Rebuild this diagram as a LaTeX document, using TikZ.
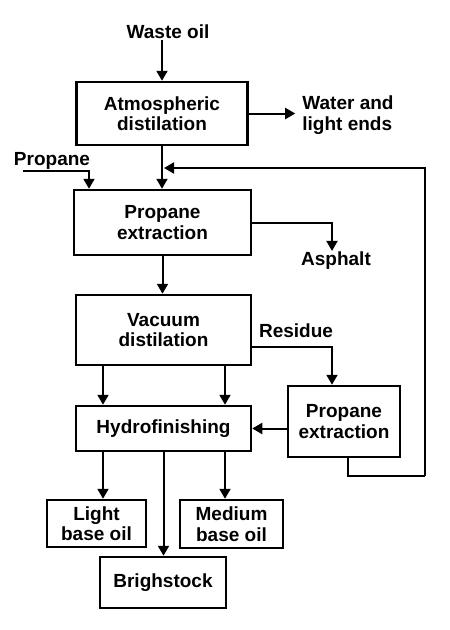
\documentclass[tikz,border=0pt]{standalone}
\usepackage{fontspec}
\setmainfont{Liberation Sans}
\usepackage{tikz}
\usetikzlibrary{arrows.meta,positioning}

\begin{document}
\begin{tikzpicture}[
    x=1pt, y=-1pt,
    >={Triangle[width=11pt,length=10pt]},
    font=\fontsize{19}{20.5}\selectfont\bfseries,
    flow/.style={->, line width=2pt},
    label/.style={inner sep=1pt, align=left},
    box/.style={
        rectangle,
        draw=black,
        line width=2.5pt,
        align=center,
        inner sep=0pt
    }
]
\useasboundingbox (0,0) rectangle (450,630);

% Process boxes
\node[box, minimum width=171pt, minimum height=63pt] (atmos) at (162,113.5) {Atmospheric\\distilation};
\node[box, minimum width=177pt, minimum height=65pt] (prop1) at (162.5,222.5) {Propane\\extraction};
\node[box, minimum width=175pt, minimum height=70pt] (vacuum) at (163.5,330) {Vacuum\\distilation};
\node[box, minimum width=175pt, minimum height=45pt] (hydro) at (163.5,428.5) {Hydrofinishing};
\node[box, minimum width=112pt, minimum height=71pt] (prop2) at (344,421.5) {Propane\\extraction};

% Product boxes
\node[box, minimum width=99pt, minimum height=47pt] (light) at (96.5,523.5) {Light\\base oil};
\node[box, minimum width=103pt, minimum height=48pt] (medium) at (231.5,524) {Medium\\base oil};
\node[box, minimum width=126pt, minimum height=51pt] (brigh) at (163,582.5) {Brighstock};

% Labels
\node[label] (waste) at (168,32) {Waste oil};
\node[label] (water) at (348,115) {Water and\\light ends};
\node[label] (propane) at (52,161) {Propane};
\node[label] (asphalt) at (336,261) {Asphalt};
\node[label] (residue) at (296,331) {Residue};

\coordinate (propin) at (23,171);
\coordinate (join) at (164,168);
\coordinate (back) at (425,476);

% Main line
\draw[flow] (waste.south -| atmos.north) -- (atmos.north);
\draw[flow] (atmos.east) -- ([xshift=-6pt]atmos.east -| water.west);
\draw[flow] (atmos.south) -- (atmos.south |- prop1.north);
\draw[flow] (propin) -| ([xshift=-73.5pt]prop1.north);
\draw[flow] (prop1.south) -- (prop1.south |- vacuum.north);
\draw[flow] (prop1.east) -| ([xshift=-4pt]asphalt.north);

% Vacuum distilation outlets
\draw[flow] ([xshift=-60.5pt]vacuum.south) -- ([xshift=-60.5pt]vacuum.south |- hydro.north);
\draw[flow] ([xshift=61.5pt]vacuum.south) -- ([xshift=61.5pt]vacuum.south |- hydro.north);
\draw[flow] ([yshift=-17pt]vacuum.east) -| ([xshift=-12pt]prop2.north);

% Residue extraction and recycle
\draw[flow] (prop2.west |- hydro.east) -- (hydro.east);
\draw[line width=2pt] ([xshift=4pt]prop2.south) |- (back);
\draw[flow] (back) |- (join);

% Hydrofinishing outlets
\draw[flow] ([xshift=-60.5pt]hydro.south) -- ([xshift=-60.5pt]hydro.south |- light.north);
\draw[flow] ([xshift=61.5pt]hydro.south) -- ([xshift=61.5pt]hydro.south |- medium.north);
\draw[flow] (hydro.south) -- (hydro.south |- brigh.north);

\end{tikzpicture}
\end{document}
